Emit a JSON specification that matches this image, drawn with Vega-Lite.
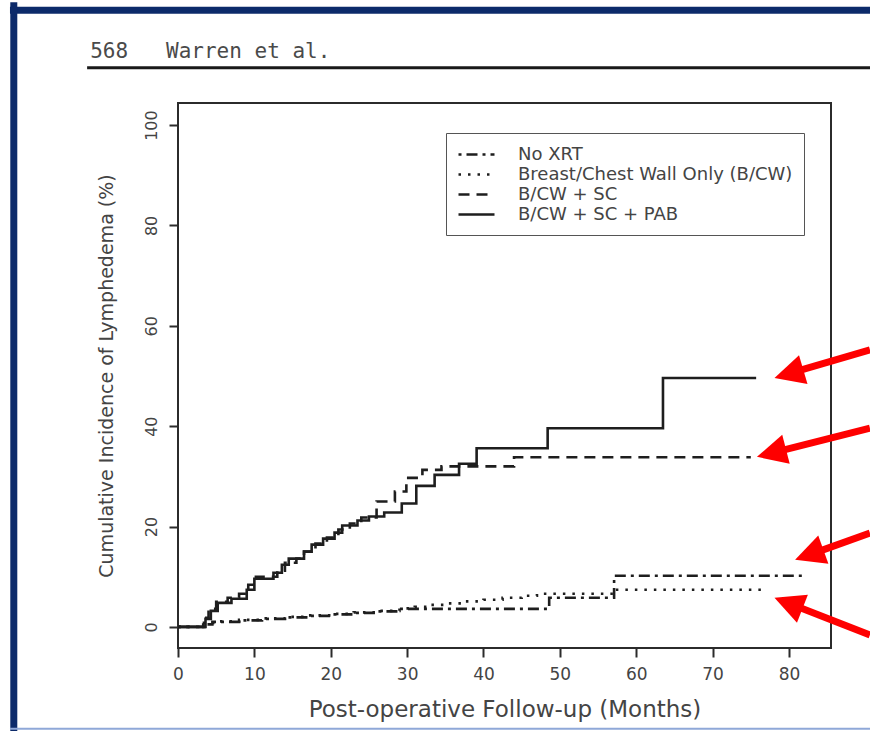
{
  "$schema": "https://vega.github.io/schema/vega-lite/v6.json",
  "width": 653,
  "height": 545,
  "autosize": {"type": "none"},
  "padding": {"left": 178, "top": 103, "right": 39, "bottom": 83},
  "background": "#ffffff",
  "config": {
    "view": {"stroke": "#2b2b2b", "strokeWidth": 2},
    "axis": {"grid": false, "domain": false, "tickColor": "#2b2b2b", "tickWidth": 2, "tickSize": 9, "labelColor": "#444444", "titleColor": "#444444", "titleFontWeight": "normal", "labelFont": "DejaVu Sans", "titleFont": "DejaVu Sans"}
  },
  "datasets": {
    "curves": [
      {"series": "No XRT", "x": 0, "y": 0},
      {"series": "No XRT", "x": 3.5, "y": 0.5},
      {"series": "No XRT", "x": 4.5, "y": 1.0},
      {"series": "No XRT", "x": 8, "y": 1.3},
      {"series": "No XRT", "x": 11, "y": 1.6},
      {"series": "No XRT", "x": 14, "y": 1.9},
      {"series": "No XRT", "x": 17, "y": 2.2},
      {"series": "No XRT", "x": 20, "y": 2.5},
      {"series": "No XRT", "x": 23, "y": 2.8},
      {"series": "No XRT", "x": 26, "y": 3.1},
      {"series": "No XRT", "x": 29, "y": 3.6},
      {"series": "No XRT", "x": 48.6, "y": 5.8},
      {"series": "No XRT", "x": 57.1, "y": 10.2},
      {"series": "No XRT", "x": 81.8, "y": 10.2},
      {"series": "Breast/Chest Wall Only (B/CW)", "x": 0, "y": 0},
      {"series": "Breast/Chest Wall Only (B/CW)", "x": 3.4, "y": 0.8},
      {"series": "Breast/Chest Wall Only (B/CW)", "x": 5, "y": 1.1},
      {"series": "Breast/Chest Wall Only (B/CW)", "x": 8, "y": 1.4},
      {"series": "Breast/Chest Wall Only (B/CW)", "x": 11, "y": 1.7},
      {"series": "Breast/Chest Wall Only (B/CW)", "x": 14, "y": 2.0},
      {"series": "Breast/Chest Wall Only (B/CW)", "x": 17, "y": 2.3},
      {"series": "Breast/Chest Wall Only (B/CW)", "x": 20, "y": 2.6},
      {"series": "Breast/Chest Wall Only (B/CW)", "x": 23, "y": 2.9},
      {"series": "Breast/Chest Wall Only (B/CW)", "x": 26, "y": 3.2},
      {"series": "Breast/Chest Wall Only (B/CW)", "x": 29, "y": 3.7},
      {"series": "Breast/Chest Wall Only (B/CW)", "x": 31, "y": 4.0},
      {"series": "Breast/Chest Wall Only (B/CW)", "x": 33, "y": 4.4},
      {"series": "Breast/Chest Wall Only (B/CW)", "x": 35, "y": 4.7},
      {"series": "Breast/Chest Wall Only (B/CW)", "x": 37.5, "y": 5.1},
      {"series": "Breast/Chest Wall Only (B/CW)", "x": 40, "y": 5.4},
      {"series": "Breast/Chest Wall Only (B/CW)", "x": 42.5, "y": 5.8},
      {"series": "Breast/Chest Wall Only (B/CW)", "x": 45, "y": 6.2},
      {"series": "Breast/Chest Wall Only (B/CW)", "x": 47, "y": 6.6},
      {"series": "Breast/Chest Wall Only (B/CW)", "x": 57.1, "y": 7.4},
      {"series": "Breast/Chest Wall Only (B/CW)", "x": 76.6, "y": 7.4},
      {"series": "B/CW + SC", "x": 0, "y": 0},
      {"series": "B/CW + SC", "x": 3.3, "y": 1.8},
      {"series": "B/CW + SC", "x": 4.0, "y": 3.6},
      {"series": "B/CW + SC", "x": 5.0, "y": 5.0},
      {"series": "B/CW + SC", "x": 6.5, "y": 5.8},
      {"series": "B/CW + SC", "x": 8.0, "y": 6.6},
      {"series": "B/CW + SC", "x": 9.2, "y": 8.4},
      {"series": "B/CW + SC", "x": 10.2, "y": 10.0},
      {"series": "B/CW + SC", "x": 13.0, "y": 11.2},
      {"series": "B/CW + SC", "x": 14.0, "y": 12.8},
      {"series": "B/CW + SC", "x": 15.5, "y": 13.6},
      {"series": "B/CW + SC", "x": 16.5, "y": 15.0},
      {"series": "B/CW + SC", "x": 18.0, "y": 16.6},
      {"series": "B/CW + SC", "x": 19.5, "y": 17.8},
      {"series": "B/CW + SC", "x": 21.0, "y": 19.4},
      {"series": "B/CW + SC", "x": 22.5, "y": 20.6},
      {"series": "B/CW + SC", "x": 24.0, "y": 21.8},
      {"series": "B/CW + SC", "x": 26.0, "y": 25.0},
      {"series": "B/CW + SC", "x": 28.4, "y": 27.0},
      {"series": "B/CW + SC", "x": 29.9, "y": 29.7},
      {"series": "B/CW + SC", "x": 32.0, "y": 31.3},
      {"series": "B/CW + SC", "x": 34.5, "y": 32.0},
      {"series": "B/CW + SC", "x": 44.0, "y": 33.8},
      {"series": "B/CW + SC", "x": 75.0, "y": 33.8},
      {"series": "B/CW + SC + PAB", "x": 0, "y": 0},
      {"series": "B/CW + SC + PAB", "x": 3.6, "y": 1.6},
      {"series": "B/CW + SC + PAB", "x": 4.3, "y": 3.2},
      {"series": "B/CW + SC + PAB", "x": 5.2, "y": 4.8},
      {"series": "B/CW + SC + PAB", "x": 7.0, "y": 5.6},
      {"series": "B/CW + SC + PAB", "x": 9.0, "y": 7.4},
      {"series": "B/CW + SC + PAB", "x": 10.0, "y": 9.6},
      {"series": "B/CW + SC + PAB", "x": 12.5, "y": 10.8},
      {"series": "B/CW + SC + PAB", "x": 13.6, "y": 12.4},
      {"series": "B/CW + SC + PAB", "x": 14.5, "y": 13.6},
      {"series": "B/CW + SC + PAB", "x": 16.5, "y": 15.0},
      {"series": "B/CW + SC + PAB", "x": 17.5, "y": 16.4},
      {"series": "B/CW + SC + PAB", "x": 19.0, "y": 17.6},
      {"series": "B/CW + SC + PAB", "x": 20.5, "y": 18.8},
      {"series": "B/CW + SC + PAB", "x": 21.5, "y": 20.2},
      {"series": "B/CW + SC + PAB", "x": 23.5, "y": 21.2},
      {"series": "B/CW + SC + PAB", "x": 25.0, "y": 22.0},
      {"series": "B/CW + SC + PAB", "x": 27.0, "y": 22.8},
      {"series": "B/CW + SC + PAB", "x": 29.3, "y": 24.6},
      {"series": "B/CW + SC + PAB", "x": 31.2, "y": 28.1},
      {"series": "B/CW + SC + PAB", "x": 33.6, "y": 30.3},
      {"series": "B/CW + SC + PAB", "x": 36.8, "y": 32.5},
      {"series": "B/CW + SC + PAB", "x": 39.1, "y": 35.6},
      {"series": "B/CW + SC + PAB", "x": 48.4, "y": 39.6},
      {"series": "B/CW + SC + PAB", "x": 63.5, "y": 49.6},
      {"series": "B/CW + SC + PAB", "x": 75.7, "y": 49.6}
    ],
    "arrows": [
      {"x": 90.6, "y": 55.2, "x2": 81.4, "y2": 51.1, "hx": 78.1, "hy": 49.6, "dir": 253.6},
      {"x": 90.6, "y": 39.6, "x2": 79.1, "y2": 35.2, "hx": 75.8, "hy": 33.9, "dir": 255.6},
      {"x": 90.6, "y": 18.7, "x2": 84.0, "y2": 15.1, "hx": 80.8, "hy": 13.4, "dir": 250.2},
      {"x": 90.6, "y": -1.6, "x2": 81.3, "y2": 3.9, "hx": 78.1, "hy": 5.8, "dir": 291.3}
    ],
    "decor": [
      {"part": "top", "x": -22.0, "x2": 91.0, "y": 122.9, "y2": 122.9},
      {"part": "left", "x": -21.5, "x2": -21.5, "y": 124.5, "y2": -21.5},
      {"part": "bottom", "x": -22.0, "x2": 91.0, "y": -20.3, "y2": -20.3},
      {"part": "header", "x": -11.9, "x2": 91.0, "y": 111.4, "y2": 111.4}
    ],
    "heading": [
      {"label": "568\u00a0\u00a0\u00a0Warren et al.", "x": -11.5, "y": 113.4}
    ]
  },
  "layer": [
    {
      "data": {"name": "curves"},
      "mark": {"type": "line", "interpolate": "step-after", "stroke": "#1e1e1e", "strokeWidth": 2.6},
      "encoding": {
        "x": {
          "field": "x", "type": "quantitative",
          "scale": {"domain": [0, 85.5], "nice": false, "zero": false},
          "axis": {"values": [0, 10, 20, 30, 40, 50, 60, 70, 80], "labelFlush": false, "labelFontSize": 17, "labelPadding": 9, "title": "Post-operative Follow-up (Months)", "titleFontSize": 23, "titlePadding": 16}
        },
        "y": {
          "field": "y", "type": "quantitative",
          "scale": {"domain": [-4.2, 104.4], "nice": false, "zero": false},
          "axis": {"values": [0, 20, 40, 60, 80, 100], "labelAngle": -90, "labelFontSize": 16, "labelPadding": 10, "title": "Cumulative Incidence of Lymphedema (%)", "titleFontSize": 19, "titlePadding": 27}
        },
        "strokeDash": {
          "field": "series", "type": "nominal",
          "scale": {"domain": ["No XRT", "Breast/Chest Wall Only (B/CW)", "B/CW + SC", "B/CW + SC + PAB"], "range": [[3, 5, 11, 5], [2.5, 7], [11, 7], [1, 0]]},
          "legend": {"orient": "none", "legendX": 268, "legendY": 30, "title": null, "symbolType": "M-2,0L2,0", "symbolSize": 324, "symbolStrokeWidth": 2.6, "symbolStrokeColor": "#1e1e1e", "symbolOffset": 9, "labelOffset": 31, "labelLimit": 500, "labelFont": "DejaVu Sans", "labelFontSize": 18, "labelColor": "#444444", "rowPadding": 0, "padding": 11, "strokeColor": "#555555", "fillColor": "#ffffff"}
        }
      }
    },
    {
      "data": {"name": "decor"},
      "transform": [{"filter": "datum.part === 'top' || datum.part === 'left'"}],
      "mark": {"type": "rule", "color": "#0c2a6a", "strokeWidth": 7, "strokeCap": "butt"},
      "encoding": {
        "x": {"field": "x", "type": "quantitative"},
        "x2": {"field": "x2"},
        "y": {"field": "y", "type": "quantitative"},
        "y2": {"field": "y2"}
      }
    },
    {
      "data": {"name": "decor"},
      "transform": [{"filter": "datum.part === 'bottom'"}],
      "mark": {"type": "rule", "color": "#8fa8d8", "strokeWidth": 2},
      "encoding": {
        "x": {"field": "x", "type": "quantitative"},
        "x2": {"field": "x2"},
        "y": {"field": "y", "type": "quantitative"},
        "y2": {"field": "y2"}
      }
    },
    {
      "data": {"name": "decor"},
      "transform": [{"filter": "datum.part === 'header'"}],
      "mark": {"type": "rule", "color": "#1a1a1a", "strokeWidth": 3},
      "encoding": {
        "x": {"field": "x", "type": "quantitative"},
        "x2": {"field": "x2"},
        "y": {"field": "y", "type": "quantitative"},
        "y2": {"field": "y2"}
      }
    },
    {
      "data": {"name": "heading"},
      "mark": {"type": "text", "align": "left", "baseline": "alphabetic", "font": "DejaVu Sans Mono", "fontSize": 21, "color": "#4a4a4a"},
      "encoding": {
        "x": {"field": "x", "type": "quantitative"},
        "y": {"field": "y", "type": "quantitative"},
        "text": {"field": "label"}
      }
    },
    {
      "data": {"name": "arrows"},
      "mark": {"type": "rule", "color": "#fe0000", "strokeWidth": 7, "strokeCap": "butt"},
      "encoding": {
        "x": {"field": "x", "type": "quantitative"},
        "x2": {"field": "x2"},
        "y": {"field": "y", "type": "quantitative"},
        "y2": {"field": "y2"}
      }
    },
    {
      "data": {"name": "arrows"},
      "mark": {"type": "point", "shape": "M0,0L-1,2L1,2Z", "filled": true, "color": "#fe0000", "size": 900, "opacity": 1, "strokeWidth": 0},
      "encoding": {
        "x": {"field": "hx", "type": "quantitative"},
        "y": {"field": "hy", "type": "quantitative"},
        "angle": {"field": "dir", "type": "quantitative", "scale": null}
      }
    }
  ]
}
